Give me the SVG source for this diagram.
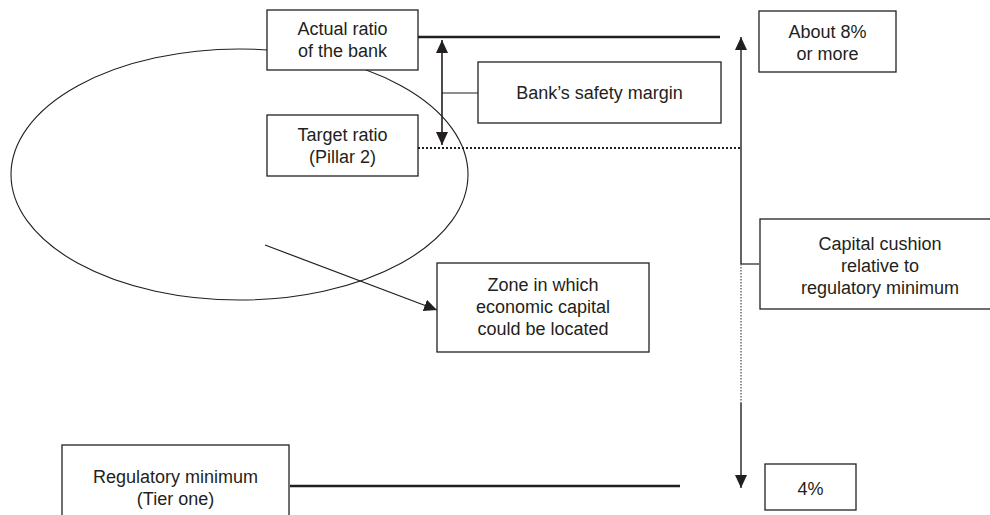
<svg xmlns="http://www.w3.org/2000/svg" width="990" height="515" viewBox="0 0 990 515">
<style>
.box{fill:#fff;stroke:#231f20;stroke-width:1.3}
.t{font-family:"Liberation Sans",Arial,Helvetica,sans-serif;font-size:18px;fill:#231f20;text-anchor:middle}
.ln{stroke:#231f20;fill:none}
</style>
<defs>
<marker id="ah" markerUnits="userSpaceOnUse" markerWidth="14" markerHeight="12" refX="13" refY="6" orient="auto-start-reverse" viewBox="0 0 14 12">
<path d="M0,0 L13,6 L0,12 z" fill="#231f20"/>
</marker>
</defs>
<rect width="990" height="515" fill="#fff"/>
<ellipse id="zone-ellipse" cx="239.5" cy="174.5" rx="228.5" ry="125.5" class="ln" stroke-width="1.1"/>
<g id="connectors">
<line x1="418" y1="37" x2="720" y2="37" class="ln" stroke-width="2.6"/>
<line x1="290" y1="486" x2="680" y2="486" class="ln" stroke-width="2.6"/>
<line x1="418" y1="148" x2="741" y2="148" class="ln" stroke-width="2" stroke-dasharray="2 2"/>
<line x1="442" y1="40" x2="442" y2="145" class="ln" stroke-width="1.6" marker-start="url(#ah)" marker-end="url(#ah)"/>
<line x1="442" y1="93" x2="478" y2="93" class="ln" stroke-width="1.2"/>
<line x1="741" y1="37" x2="741" y2="264" class="ln" stroke-width="1.4" marker-start="url(#ah)"/>
<line x1="741" y1="264" x2="759" y2="264" class="ln" stroke-width="1.2"/>
<line x1="741" y1="264" x2="741" y2="403" stroke="#555" stroke-width="1.3" stroke-dasharray="1.5 1.5"/>
<line x1="741" y1="403" x2="741" y2="488" class="ln" stroke-width="1.4" marker-end="url(#ah)"/>
<line x1="265" y1="245" x2="437" y2="310" class="ln" stroke-width="1.2" marker-end="url(#ah)"/>
</g>
<g id="actual-ratio">
<rect x="267" y="10" width="151" height="60" class="box"/>
<text class="t" x="342.5" y="35">Actual ratio</text>
<text class="t" x="342.5" y="57">of the bank</text>
</g>
<g id="target-ratio">
<rect x="267" y="115" width="151" height="61" class="box"/>
<text class="t" x="342.5" y="141">Target ratio</text>
<text class="t" x="342.5" y="163">(Pillar 2)</text>
</g>
<g id="safety-margin">
<rect x="478" y="62" width="243" height="61" class="box"/>
<text class="t" x="599.5" y="99">Bank’s safety margin</text>
</g>
<g id="about-8">
<rect x="759" y="11" width="137" height="61" class="box"/>
<text class="t" x="827.5" y="38">About 8%</text>
<text class="t" x="827.5" y="60">or more</text>
</g>
<g id="capital-cushion">
<rect x="760" y="219" width="245" height="90" class="box"/>
<text class="t" x="880" y="250">Capital cushion</text>
<text class="t" x="880" y="272">relative to</text>
<text class="t" x="880" y="294">regulatory minimum</text>
</g>
<g id="zone-box">
<rect x="437" y="263" width="212" height="89" class="box"/>
<text class="t" x="543" y="291">Zone in which</text>
<text class="t" x="543" y="313">economic capital</text>
<text class="t" x="543" y="335">could be located</text>
</g>
<g id="four-pct">
<rect x="765" y="464" width="91" height="46" class="box"/>
<text class="t" x="810.5" y="495">4%</text>
</g>
<g id="regulatory-minimum">
<rect x="62" y="445" width="227" height="80" class="box"/>
<text class="t" x="175.5" y="483">Regulatory minimum</text>
<text class="t" x="175.5" y="505">(Tier one)</text>
</g>
</svg>
